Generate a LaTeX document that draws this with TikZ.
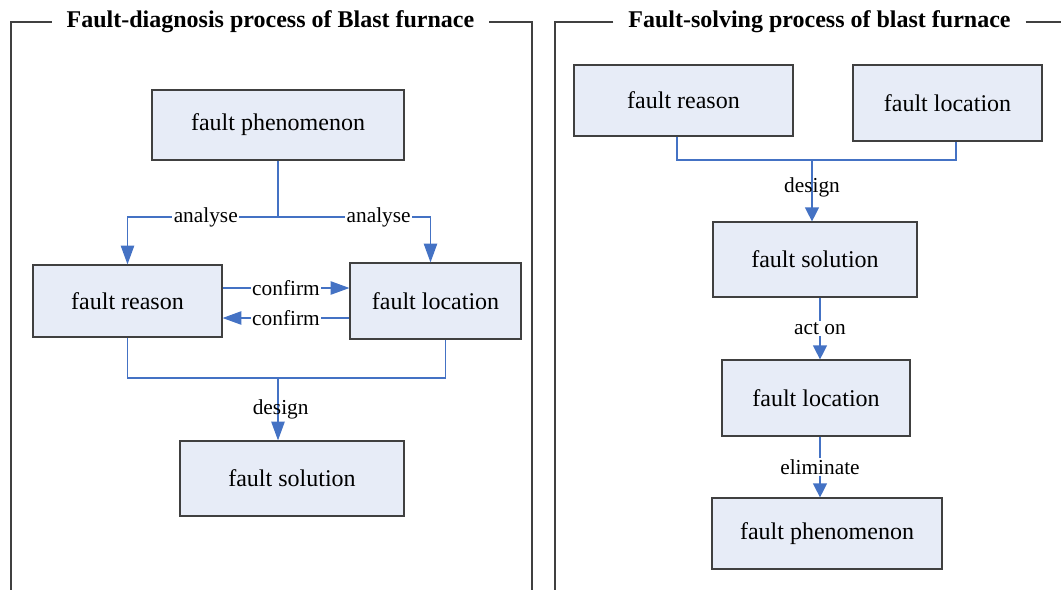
\documentclass[tikz,border=0pt]{standalone}
\usepackage{fontspec}
\setmainfont{Liberation Serif}
\usepackage{tikz}
\usetikzlibrary{calc,positioning,arrows.meta}
\usepackage{xcolor}
\definecolor{flowblue}{RGB}{68,114,196}
\definecolor{boxfill}{RGB}{231,236,247}
\definecolor{framegray}{RGB}{64,64,64}

\begin{document}
\begin{tikzpicture}[x=0.75pt, y=-0.75pt,
    >={Triangle[length=14pt,width=10pt]},
    faultbox/.style={draw=framegray, line width=0.9pt, fill=boxfill, inner sep=0pt,
        font=\fontsize{18}{21}\selectfont},
    flow/.style={->, draw=flowblue, line width=0.9pt},
    shortflow/.style={-{Triangle[length=10.5pt,width=10.5pt]}, draw=flowblue, line width=0.9pt},
    link/.style={draw=flowblue, line width=0.9pt},
    lbl/.style={fill=white, inner sep=1pt, font=\fontsize{16}{19}\selectfont},
    txt/.style={inner sep=1pt, font=\fontsize{16}{19}\selectfont},
    frame/.style={draw=framegray, line width=0.8pt},
    paneltitle/.style={inner xsep=11pt, inner ysep=0pt, font=\fontsize{18}{21}\selectfont\bfseries}]
    \useasboundingbox (0,0) rectangle (1061,590);

    % Left panel: diagnosis
    \node[paneltitle] (titleL) at (270.5,22) {Fault-diagnosis process of Blast furnace};
    \draw[frame] (titleL.west) -| (11,590);
    \draw[frame] (titleL.east) -| (532,590);

    \node[faultbox, minimum width=189pt, minimum height=52.5pt] (phenL) at (278,125) {fault phenomenon};
    \node[faultbox, minimum width=141.75pt, minimum height=54pt] (reasonL) at (127.5,301) {fault reason};
    \node[faultbox, minimum width=128.25pt, minimum height=57pt] (locL) at (435.5,301) {fault location};
    \node[faultbox, minimum width=168pt, minimum height=56.25pt] (solL) at (292,478.5) {fault solution};

    % Analyse split
    \coordinate (splitL) at (phenL.south |- 0,217);
    \draw[link] (phenL.south) -- (splitL);
    \draw[flow] (splitL) -| node[lbl, pos=0.24]{analyse} (reasonL.north);
    \draw[flow] (splitL) -| node[lbl, pos=0.33]{analyse} ($(locL.north)+(-5,0)$);

    % Confirm both ways
    \draw[flow] ($(reasonL.east)+(0,-13)$) coordinate (cfw) -- node[lbl]{confirm} (cfw -| locL.west);
    \draw[flow] ($(locL.west)+(0,17)$) coordinate (cbk) -- node[lbl]{confirm} (cbk -| reasonL.east);

    % Design merge
    \coordinate (mergeL) at (278,378);
    \draw[link] (reasonL.south) |- (mergeL) -| ($(locL.south)+(10,0)$);
    \draw[flow] (mergeL) -- node[txt, xshift=2pt]{design} (mergeL |- solL.north);

    % Right panel: solving
    \node[paneltitle] (titleR) at (819.5,22) {Fault-solving process of blast furnace};
    \draw[frame] (titleR.west) -| (555,590);
    \draw[frame] (titleR.east) -- (1061,22);

    \node[faultbox, minimum width=164.25pt, minimum height=53.25pt] (reasonR) at (683.5,100.5) {fault reason};
    \node[faultbox, minimum width=141.75pt, minimum height=57pt] (locRa) at (947.5,103) {fault location};
    \node[faultbox, minimum width=153pt, minimum height=56.25pt] (solR) at (815,259.5) {fault solution};
    \node[faultbox, minimum width=141pt, minimum height=57pt] (locRb) at (816,398) {fault location};
    \node[faultbox, minimum width=172.5pt, minimum height=53.25pt] (phenR) at (827,533.5) {fault phenomenon};

    \coordinate (mergeR) at (812,160);
    \draw[link] ($(reasonR.south)+(-6.5,0)$) |- (mergeR) -| ($(locRa.south)+(8.5,0)$);
    \draw[shortflow] (mergeR) -- node[txt, pos=0.45]{design} (mergeR |- solR.north);
    \draw[shortflow] ($(solR.south)+(5,0)$) -- node[lbl]{act on} ($(locRb.north)+(4,0)$);
    \draw[shortflow] ($(locRb.south)+(4,0)$) -- node[lbl]{eliminate} ($(phenR.north)+(-7,0)$);
\end{tikzpicture}
\end{document}
